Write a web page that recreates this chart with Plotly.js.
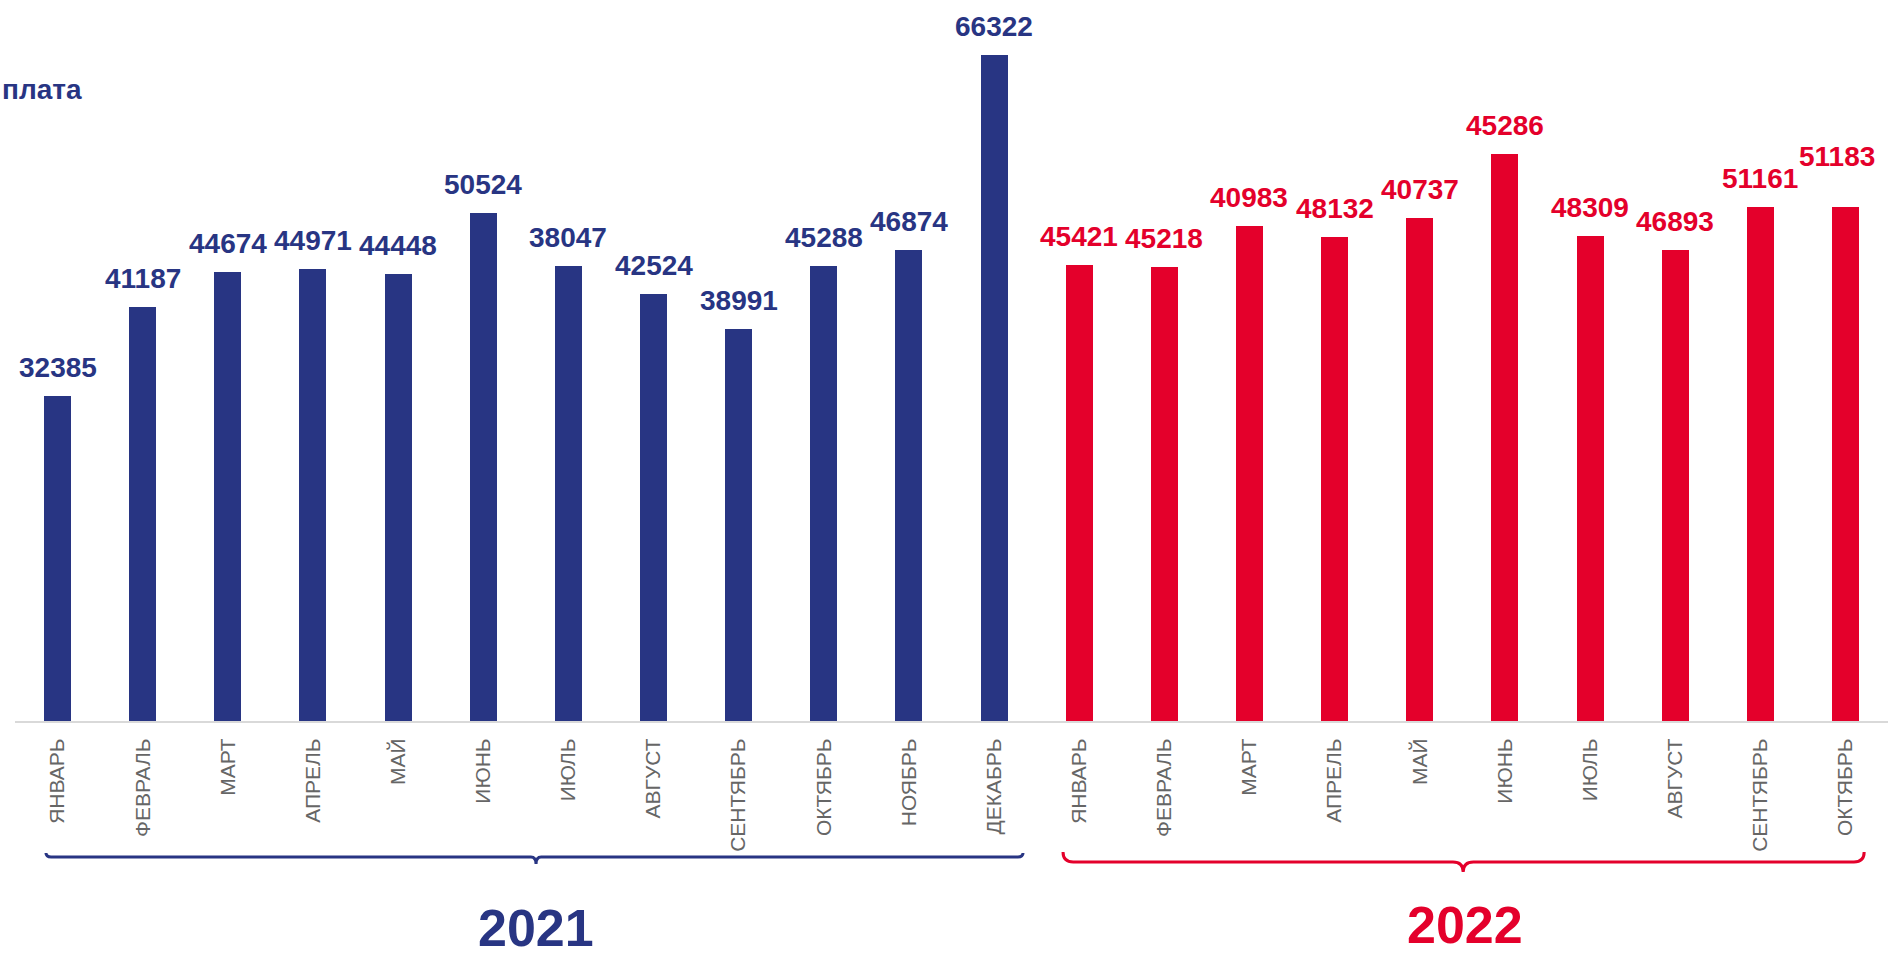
<!DOCTYPE html>
<html>
<head>
<meta charset="utf-8">
<script src="https://cdn.plot.ly/plotly-3.0.1.min.js"></script>
<style>
html, body { margin: 0; padding: 0; background: #ffffff; overflow: hidden; }
#chart { width: 1888px; height: 956px; }
</style>
</head>
<body>
<div id="chart"></div>
<script>
// ---- data ----
const months2021 = ['ЯНВАРЬ', 'ФЕВРАЛЬ', 'МАРТ', 'АПРЕЛЬ', 'МАЙ', 'ИЮНЬ', 'ИЮЛЬ', 'АВГУСТ', 'СЕНТЯБРЬ', 'ОКТЯБРЬ', 'НОЯБРЬ', 'ДЕКАБРЬ'];
const months2022 = ['ЯНВАРЬ', 'ФЕВРАЛЬ', 'МАРТ', 'АПРЕЛЬ', 'МАЙ', 'ИЮНЬ', 'ИЮЛЬ', 'АВГУСТ', 'СЕНТЯБРЬ', 'ОКТЯБРЬ'];
// bar heights as drawn in the picture
const heights2021 = [32385, 41187, 44674, 44971, 44448, 50524, 45290, 42524, 38991, 45288, 46874, 66322];
const heights2022 = [45421, 45218, 49270, 48132, 50030, 56430, 48309, 46893, 51161, 51183];
// value labels as printed above the bars
const labels2021 = ['32385', '41187', '44674', '44971', '44448', '50524', '38047', '42524', '38991', '45288', '46874', '66322'];
const labels2022 = ['45421', '45218', '40983', '48132', '40737', '45286', '48309', '46893', '51161', '51183'];
const yearLabels = ['2021', '2022'];
const titleText = 'плата';

// ---- styles ----
const NAVY = '#283583';
const RED = '#E4002B';
const FONT = 'Liberation Sans, Arial, sans-serif';

const x2021 = months2021.map((_, i) => i);
const x2022 = months2022.map((_, i) => i + months2021.length);
const allTicks = x2021.concat(x2022);
const allText = months2021.concat(months2022);

const traces = [
  { type: 'bar', x: x2021, y: heights2021, width: 0.317,
    marker: { color: NAVY, line: { width: 0 } }, hoverinfo: 'none' },
  { type: 'bar', x: x2022, y: heights2022, width: 0.317,
    marker: { color: RED, line: { width: 0 } }, hoverinfo: 'none' }
];

const annotations = [];
const labelFont = (c) => ({ family: FONT, size: 28, color: c });
heights2021.forEach((h, i) => {
  annotations.push({ x: x2021[i], y: h, xref: 'x', yref: 'y', text: '<b>' + labels2021[i] + '</b>',
    showarrow: false, xanchor: 'center', yanchor: 'bottom', yshift: 11, font: labelFont(NAVY) });
});
// small manual nudges for labels (position only)
const nudge2022 = { 9: { dx: -8, dy: 22 } };
heights2022.forEach((h, i) => {
  const n = nudge2022[i] || { dx: 0, dy: 0 };
  annotations.push({ x: x2022[i], y: h, xref: 'x', yref: 'y', text: '<b>' + labels2022[i] + '</b>',
    showarrow: false, xanchor: 'center', yanchor: 'bottom', yshift: 11 + n.dy, xshift: n.dx, font: labelFont(RED) });
});

// title fragment at top-left
annotations.push({ x: -0.008, y: 0.8756, xref: 'paper', yref: 'paper', xanchor: 'left', yanchor: 'bottom',
  text: '<b>' + titleText + '</b>', showarrow: false, font: { family: FONT, size: 28, color: NAVY } });

// year labels
annotations.push({ x: 5.62, y: -0.2946, xref: 'x', yref: 'paper', xanchor: 'center', yanchor: 'middle',
  text: '<b>' + yearLabels[0] + '</b>', showarrow: false, font: { family: FONT, size: 52, color: NAVY } });
annotations.push({ x: 16.53, y: -0.291, xref: 'x', yref: 'paper', xanchor: 'center', yanchor: 'middle',
  text: '<b>' + yearLabels[1] + '</b>', showarrow: false, font: { family: FONT, size: 52, color: RED } });

function brace(x0, x1, xm, yTop, yLine, yTip, dx) {
  return 'M' + x0 + ',' + yTop +
    ' Q' + x0 + ',' + yLine + ' ' + (x0 + dx) + ',' + yLine +
    ' L' + (xm - dx) + ',' + yLine +
    ' Q' + xm + ',' + yLine + ' ' + xm + ',' + yTip +
    ' Q' + xm + ',' + yLine + ' ' + (xm + dx) + ',' + yLine +
    ' L' + (x1 - dx) + ',' + yLine +
    ' Q' + x1 + ',' + yLine + ' ' + x1 + ',' + yTop;
}

const shapes = [
  { type: 'path', xref: 'x', yref: 'paper', path: brace(-0.136, 11.34, 5.62, -0.1883, -0.194, -0.2040, 0.06),
    line: { color: NAVY, width: 3 } },
  { type: 'path', xref: 'x', yref: 'paper', path: brace(11.81, 21.22, 16.51, -0.1869, -0.2011, -0.2154, 0.12),
    line: { color: RED, width: 3 } }
];

const layout = {
  width: 1888, height: 956,
  margin: { l: 15, r: 0, t: 20, b: 235 },
  paper_bgcolor: '#ffffff', plot_bgcolor: '#ffffff',
  showlegend: false,
  bargap: 0,
  xaxis: {
    range: [-0.5, 21.5], tickmode: 'array', tickvals: allTicks, ticktext: allText,
    tickangle: -90, ticks: '', ticklabelstandoff: 7,
    tickfont: { family: FONT, size: 21, color: '#666666' },
    showgrid: false, zeroline: false, showline: true, linecolor: '#d9d9d9', linewidth: 2,
    fixedrange: true
  },
  yaxis: { range: [0, 69765], visible: false, showgrid: false, zeroline: false, fixedrange: true },
  annotations: annotations,
  shapes: shapes
};

Plotly.newPlot('chart', traces, layout, { displayModeBar: false, staticPlot: true });
</script>
</body>
</html>
